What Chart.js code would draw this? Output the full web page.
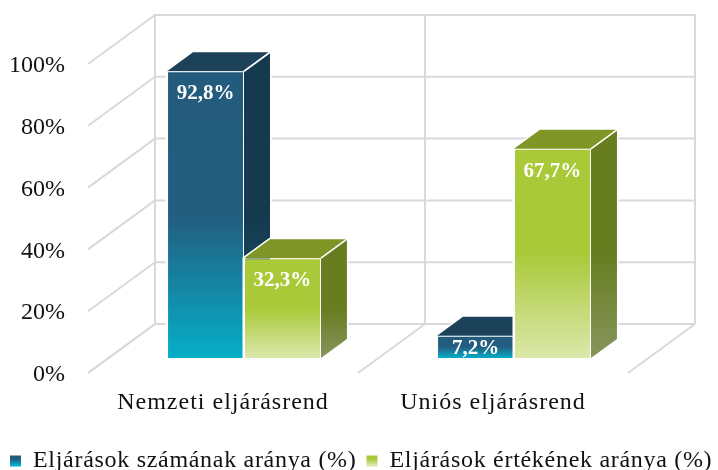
<!DOCTYPE html>
<html><head><meta charset="utf-8">
<style>html,body{margin:0;padding:0;background:#fff;overflow:hidden}canvas{display:block}</style>
<script src="https://cdn.jsdelivr.net/npm/chart.js@4/dist/chart.umd.min.js"></script>
</head><body><canvas id="c" width="718" height="470"></canvas>
<script>
const categories = ["Nemzeti eljárásrend", "Uniós eljárásrend"];
const seriesNames = ["Eljárások számának aránya (%)", "Eljárások értékének aránya (%)"];
const countShare = [92.8, 7.2];
const valueShare = [32.3, 67.7];
const yTicks = [0, 20, 40, 60, 80, 100];

const FONT = '"Liberation Serif", serif';
const WALL = {dx: 67, dy: -49};
const SHIFT = {dx: 21, dy: -15};
const DEPTH = {dx: 26, dy: -19};
const GRID = '#d9d9d9';
const STY = [
  {front: ['#245b7c', '#235d7f', '#06aec8'], top: '#1b4259', side: ['#153a50', '#153a50', '#14566c']},
  {front: ['#a9c938', '#a9c938', '#dbe8ab'], top: '#7f9627', side: ['#687d20', '#687d20', '#87955c']}
];
function grad(ctx, y0, y1, c) {
  const g = ctx.createLinearGradient(0, y0, 0, y1);
  g.addColorStop(0, c[0]); g.addColorStop(0.5, c[1]); g.addColorStop(1, c[2]);
  return g;
}
function frontFill(i) {
  return (c) => {
    const v = c.parsed ? c.parsed.y : c.raw;
    const y = c.chart.scales.y;
    return grad(c.chart.ctx, y.getPixelForValue(v), y.getPixelForValue(0), STY[i].front);
  };
}
function poly(ctx, pts, fill) {
  ctx.beginPath();
  pts.forEach((p, i) => i ? ctx.lineTo(p[0], p[1]) : ctx.moveTo(p[0], p[1]));
  ctx.closePath();
  if (fill) { ctx.fillStyle = fill; ctx.fill(); }
}
function spaced(obj, method, ctx, px) {
  const orig = obj[method];
  obj[method] = function (...a) {
    ctx.save(); ctx.letterSpacing = px;
    const r = orig.apply(this, a);
    ctx.restore();
    return r;
  };
}
const threeD = {
  id: 'threeD',
  afterLayout(chart) {
    const L = chart.legend;
    L.top += 13; L.bottom += 13; L.right += 30;
    if (!L._sp) { spaced(L, 'draw', chart.ctx, '0.7px'); L._sp = true; }
    const X = chart.scales.x;
    if (!X._sp) { spaced(X, 'drawLabels', chart.ctx, '1px'); X._sp = true; }
  },
  beforeDatasetsDraw(chart) {
    const {ctx, scales: {x, y}} = chart;
    const step = x.getPixelForTick(1) - x.getPixelForTick(0);
    const edges = [x.getPixelForTick(0) - step / 2, x.getPixelForTick(0) + step / 2, x.getPixelForTick(1) + step / 2];
    ctx.save();
    ctx.strokeStyle = GRID; ctx.lineWidth = 2; ctx.lineCap = 'butt';
    const line = (a, b, c, d) => { ctx.beginPath(); ctx.moveTo(a, b); ctx.lineTo(c, d); ctx.stroke(); };
    yTicks.forEach(t => {
      const py = y.getPixelForValue(t);
      line(edges[0], py, edges[0] + WALL.dx, py + WALL.dy);
      line(edges[0] + WALL.dx, py + WALL.dy, edges[2] + WALL.dx, py + WALL.dy);
    });
    edges.forEach(e => {
      line(e, y.getPixelForValue(0), e + WALL.dx, y.getPixelForValue(0) + WALL.dy);
      line(e + WALL.dx, y.getPixelForValue(0) + WALL.dy, e + WALL.dx, y.getPixelForValue(100) + WALL.dy - 1);
    });
    ctx.restore();

    // Bars: dataset 0 first, so the second series sits in front of its side face.
    ctx.save();
    ctx.translate(SHIFT.dx, SHIFT.dy);
    chart.data.datasets.forEach((d, i) => {
      const meta = chart.getDatasetMeta(i), s = STY[i];
      meta.data.forEach(b => {
        const p = b.getProps(['x', 'y', 'base', 'width'], true);
        const x1 = p.x - p.width / 2, x2 = p.x + p.width / 2, dx = DEPTH.dx, dy = DEPTH.dy;
        poly(ctx, [[x1, p.base], [x1, p.y], [x1 + dx, p.y + dy], [x2 + dx, p.y + dy], [x2 + dx, p.base + dy], [x2, p.base]]);
        ctx.strokeStyle = '#fff'; ctx.lineWidth = 3; ctx.lineJoin = 'round'; ctx.stroke();
        poly(ctx, [[x1, p.y], [x1 + dx, p.y + dy], [x2 + dx, p.y + dy], [x2, p.y]], s.top);
        poly(ctx, [[x2, p.y], [x2 + dx, p.y + dy], [x2 + dx, p.base + dy], [x2, p.base]], grad(ctx, p.y, p.base, s.side));
        ctx.beginPath(); ctx.moveTo(x2, p.y); ctx.lineTo(x2 + dx, p.y + dy);
        ctx.strokeStyle = '#fff'; ctx.lineWidth = 1.6; ctx.stroke();
      });
      meta.controller.draw();
    });
    ctx.font = 'bold 21px ' + FONT;
    ctx.fillStyle = '#fff'; ctx.textAlign = 'center'; ctx.textBaseline = 'middle';
    chart.data.datasets.forEach((d, i) => {
      chart.getDatasetMeta(i).data.forEach((b, j) => {
        const h = b.base - b.y;
        ctx.fillText(d.data[j].toFixed(1).replace('.', ',') + '%', b.x, b.y + Math.min(21, h / 2) + 1.5);
      });
    });
    ctx.restore();
    return false;
  }
};
new Chart(document.getElementById('c'), {
  type: 'bar',
  plugins: [threeD],
  data: {
    labels: categories,
    datasets: [
      {label: seriesNames[0], data: countShare, backgroundColor: frontFill(0), borderColor: 'rgba(255,255,255,0.85)', borderWidth: 1},
      {label: seriesNames[1], data: valueShare, backgroundColor: frontFill(1), borderColor: 'rgba(255,255,255,0.85)', borderWidth: 1}
    ]
  },
  options: {
    responsive: false,
    animation: false,
    layout: {padding: {top: 64, right: 0, left: 0, bottom: 0}},
    datasets: {bar: {categoryPercentage: 0.57, barPercentage: 1}},
    scales: {
      x: {
        grid: {display: false}, border: {display: false},
        ticks: {color: '#111', font: {family: FONT, size: 24}, padding: 7, maxRotation: 0},
        afterFit(s) { s.height = 53; }
      },
      y: {
        min: 0, max: 100,
        grid: {display: false}, border: {display: false},
        afterBuildTicks(s) { s.ticks = yTicks.map(v => ({value: v})); },
        ticks: {color: '#111', font: {family: FONT, size: 24}, padding: 15, labelOffset: 2, callback: v => v + '%'},
        afterFit(s) { s.width = 88; }
      },
      rightGutter: {
        type: 'linear', position: 'right', display: true,
        grid: {display: false}, border: {display: false}, ticks: {display: false},
        afterFit(s) { s.width = 90; }
      }
    },
    plugins: {
      tooltip: {enabled: false},
      legend: {
        position: 'bottom', align: 'start',
        labels: {
          color: '#111', font: {family: FONT, size: 24}, boxWidth: 11, boxHeight: 11, padding: 10,
          generateLabels(chart) {
            return seriesNames.map((n, i) => ({
              text: n, datasetIndex: i, lineWidth: 0, strokeStyle: 'transparent',
              fillStyle: grad(chart.ctx, 453, 465, STY[i].front), fontColor: '#111'
            }));
          }
        }
      }
    }
  }
});
</script></body></html>
